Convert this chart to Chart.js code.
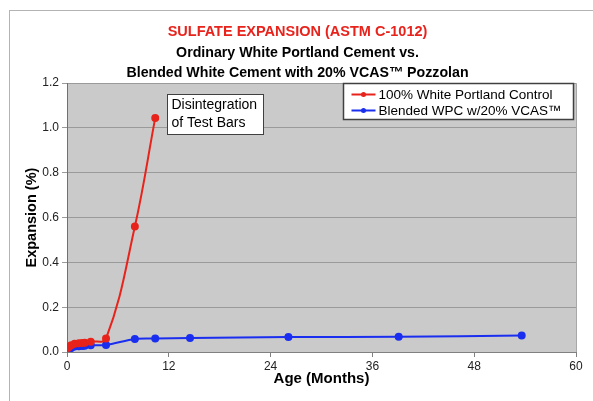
<!DOCTYPE html>
<html>
<head>
<meta charset="utf-8">
<script src="https://cdn.jsdelivr.net/npm/chart.js@4/dist/chart.umd.min.js"></script>
<style>
  html, body { margin: 0; padding: 0; background: #fff; overflow: hidden; }
  #sulfateChart { display: block; }
</style>
</head>
<body>
<canvas id="sulfateChart" width="593" height="401"></canvas>
<script>
// Data (age in months, expansion in %)
const controlAge = [0.1, 0.25, 0.5, 0.9, 1.4, 1.8, 2.1, 2.8, 4.6, 8.0, 10.4];
const controlExpansion = [0.018, 0.025, 0.030, 0.037, 0.039, 0.040, 0.041, 0.046, 0.060, 0.560, 1.045];
const blendedAge = [0.1, 0.25, 0.5, 0.9, 1.4, 1.8, 2.1, 2.8, 4.6, 8.0, 10.4, 14.5, 26.1, 39.1, 53.6];
const blendedExpansion = [0.005, 0.012, 0.018, 0.024, 0.026, 0.027, 0.028, 0.030, 0.031, 0.058, 0.060, 0.062, 0.067, 0.068, 0.074];
const seriesLabels = ['100% White Portland Control', 'Blended WPC w/20% VCAS\u2122'];
const xTicks = [0, 12, 24, 36, 48, 60];
const yTicks = [0, 0.2, 0.4, 0.6, 0.8, 1.0, 1.2];
const noteLines = ['Disintegration', 'of Test Bars'];

const FONT = "'Liberation Sans', Arial, sans-serif";
const RED = '#e8231c';
const BLUE = '#1a2ef0';

const toPoints = (xs, ys) => xs.map((x, i) => ({ x, y: ys[i] }));

// outer frame, plot background, inside legend and note box
const decorPlugin = {
  id: 'decor',
  beforeDraw(chart) {
    const { ctx, chartArea: a } = chart;
    ctx.save();
    ctx.fillStyle = '#fff';
    ctx.fillRect(0, 0, chart.width, chart.height);
    ctx.strokeStyle = '#b4b4b4';
    ctx.lineWidth = 1;
    ctx.strokeRect(9.5, 10.5, chart.width + 20, chart.height + 20);
    ctx.fillStyle = '#cacaca';
    ctx.fillRect(a.left, a.top, a.right - a.left, a.bottom - a.top);
    ctx.restore();
  },
  afterDraw(chart) {
    const { ctx, chartArea: a } = chart;
    ctx.save();
    // plot border on the right
    ctx.strokeStyle = '#a8a8a8';
    ctx.beginPath();
    ctx.moveTo(a.right + 0.5, a.top);
    ctx.lineTo(a.right + 0.5, a.bottom);
    ctx.stroke();

    // legend box
    const lx = 343.5, ly = 83.5, lw = 230, lh = 36;
    ctx.fillStyle = '#fff';
    ctx.fillRect(lx, ly, lw, lh);
    ctx.strokeStyle = '#404040';
    ctx.lineWidth = 1.5;
    ctx.strokeRect(lx, ly, lw, lh);
    ctx.font = '13.5px ' + FONT;
    ctx.textBaseline = 'middle';
    chart.data.datasets.forEach((ds, i) => {
      const yy = ly + 11 + i * 16;
      ctx.strokeStyle = ds.borderColor;
      ctx.lineWidth = 2;
      ctx.beginPath();
      ctx.moveTo(lx + 8, yy);
      ctx.lineTo(lx + 32, yy);
      ctx.stroke();
      ctx.fillStyle = ds.borderColor;
      ctx.beginPath();
      ctx.arc(lx + 20, yy, 2.5, 0, Math.PI * 2);
      ctx.fill();
      ctx.fillStyle = '#000';
      ctx.fillText(ds.label, lx + 35, yy + 1);
    });

    // note box near the last control point
    const nx = 167.5, ny = 94.5, nw = 96, nh = 40;
    ctx.fillStyle = '#fff';
    ctx.fillRect(nx, ny, nw, nh);
    ctx.strokeStyle = '#404040';
    ctx.lineWidth = 1;
    ctx.strokeRect(nx, ny, nw, nh);
    ctx.fillStyle = '#000';
    ctx.font = '14px ' + FONT;
    noteLines.forEach((t, i) => ctx.fillText(t, nx + 4, ny + 11 + i * 18));
    ctx.restore();
  }
};

new Chart(document.getElementById('sulfateChart'), {
  type: 'line',
  data: {
    datasets: [
      {
        label: seriesLabels[0],
        data: toPoints(controlAge, controlExpansion),
        borderColor: RED,
        backgroundColor: RED,
        borderWidth: 2,
        pointRadius: 3,
        tension: 0.4
      },
      {
        label: seriesLabels[1],
        data: toPoints(blendedAge, blendedExpansion),
        borderColor: BLUE,
        backgroundColor: BLUE,
        borderWidth: 2,
        pointRadius: 3,
        tension: 0.3
      }
    ]
  },
  options: {
    responsive: false,
    animation: false,
    devicePixelRatio: 1,
    layout: { padding: { left: 19, right: 17, bottom: 9, top: 0 } },
    plugins: {
      legend: { display: false },
      tooltip: { enabled: false },
      title: {
        display: true,
        text: 'SULFATE EXPANSION (ASTM C-1012)',
        color: RED,
        font: { family: FONT, size: 14.5, weight: 'bold' },
        padding: { top: 23, bottom: 3 }
      },
      subtitle: {
        display: true,
        text: ['Ordinary White Portland Cement vs.', 'Blended White Cement with 20% VCAS\u2122 Pozzolan'],
        color: '#000',
        font: { family: FONT, size: 14.2, weight: 'bold', lineHeight: 1.4 },
        padding: { top: 0, bottom: 0 }
      }
    },
    scales: {
      x: {
        type: 'linear',
        min: 0,
        max: 60,
        afterBuildTicks: s => { s.ticks = xTicks.map(v => ({ value: v })); },
        afterFit: s => { s.height = 40; },
        grid: { drawOnChartArea: false, drawTicks: true, tickLength: 5, color: '#808080' },
        border: { color: '#808080' },
        ticks: { color: '#222', font: { family: FONT, size: 12 }, padding: 2, maxRotation: 0 },
        title: {
          display: true,
          text: 'Age (Months)',
          color: '#000',
          font: { family: FONT, size: 15, weight: 'bold' },
          padding: { top: 1 }
        }
      },
      y: {
        min: 0,
        max: 1.2,
        afterBuildTicks: s => { s.ticks = yTicks.map(v => ({ value: v })); },
        afterFit: s => { s.width = 48; },
        grid: { color: '#9a9a9a', tickLength: 5 },
        border: { color: '#707070' },
        ticks: { color: '#222', font: { family: FONT, size: 12 }, padding: 3, callback: v => v.toFixed(1) },
        title: {
          display: true,
          text: 'Expansion (%)',
          color: '#000',
          font: { family: FONT, size: 14.5, weight: 'bold' },
          padding: { bottom: 2 }
        }
      }
    }
  },
  plugins: [decorPlugin]
});
</script>
</body>
</html>
